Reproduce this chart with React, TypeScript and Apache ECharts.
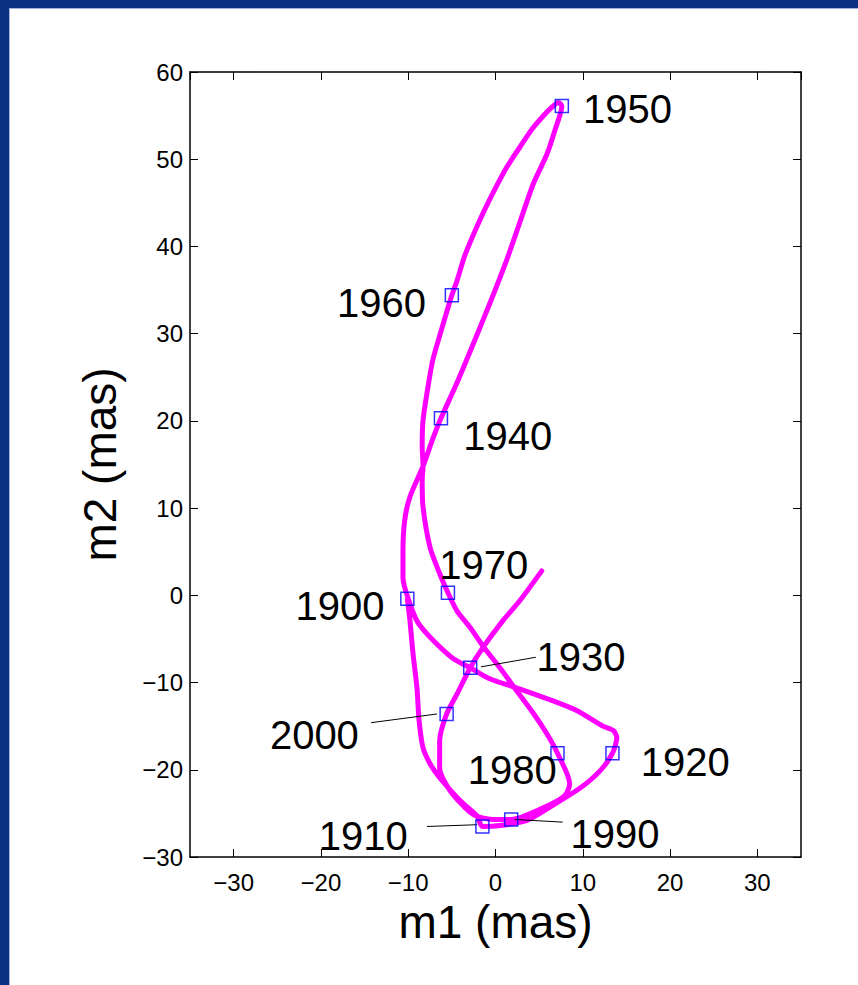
import React, { useEffect, useRef } from "react";
import * as echarts from "echarts";

// ---- data ----
const decades = [1900, 1910, 1920, 1930, 1940, 1950, 1960, 1970, 1980, 1990, 2000];
const markerM1 = [-10.1, -1.5, 13.4, -2.9, -6.25, 7.6, -5.0, -5.45, 7.1, 1.8, -5.6];
const markerM2 = [-0.4, -26.5, -18.1, -8.3, 20.3, 56.1, 34.4, 0.3, -18.1, -25.7, -13.6];

// pole path (m1, m2) in mas, 1900 -> end
const path1900s: number[][] = [
  [-10.1, -0.4], [-9.8, -2.9], [-9.45, -6.7], [-9.0, -10.6], [-8.75, -14.4], [-8.3, -17.5],
  [-7.5, -19.3], [-6.4, -20.9], [-4.1, -23.5], [-2.1, -25.3], [-1.5, -26.5],
];
const path1910s: number[][] = [[0.5, -26.4], [3.6, -25.8], [6.2, -24.3], [9.7, -22.1], [12.0, -20.1], [13.4, -18.1]];
const path1920s: number[][] = [[13.9, -16.3], [13.5, -15.5], [12.3, -15.0], [9.3, -13.2], [6.6, -12.1], [2.4, -10.6], [-0.6, -9.6], [-2.9, -8.3]];
const path1930s: number[][] = [
  [-4.9, -7.2], [-7.3, -5.0], [-8.9, -3.1], [-9.8, -0.95], [-10.6, 2.0], [-10.6, 5.1],
  [-10.4, 8.6], [-9.8, 11.3], [-8.3, 14.8], [-7.2, 17.9], [-6.25, 20.3],
];
const path1940s: number[][] = [[-4.4, 24.4], [-2.6, 28.7], [-0.6, 33.6], [1.3, 38.5], [2.8, 42.8], [4.3, 47.1], [5.9, 50.6], [6.8, 53.3], [7.6, 56.1]];
const path1950s: number[][] = [[7.2, 56.5], [6.5, 56.0], [5.6, 55.1], [4.3, 53.6], [2.8, 51.4], [1.3, 49.1], [-0.3, 46.1], [-1.8, 43.0], [-3.5, 39.0], [-4.4, 36.1], [-5.0, 34.4]];
const path1960s: number[][] = [
  [-6.0, 31.1], [-7.2, 26.9], [-7.8, 23.5], [-8.3, 20.1], [-8.4, 17.0], [-8.3, 14.8],
  [-8.4, 13.2], [-8.3, 10.1], [-7.5, 5.5], [-6.4, 2.5], [-5.45, 0.3],
];
const path1970s: number[][] = [[-4.4, -1.8], [-2.9, -3.7], [-1.45, -5.8], [0.5, -8.3], [2.4, -10.9], [4.4, -13.6], [5.9, -15.9], [7.1, -18.1]];
const path1980s: number[][] = [[8.5, -21.6], [7.9, -23.0], [5.4, -24.4], [1.8, -25.7]];
const path1990s: number[][] = [[-0.3, -25.7], [-2.6, -25.1], [-5.2, -22.4], [-6.4, -19.8], [-6.4, -16.7], [-5.6, -13.6]];
const path2000s: number[][] = [[-4.4, -11.3], [-2.9, -8.3], [-1.45, -6.0], [0.85, -2.9], [2.8, -0.6], [5.3, 2.8]];

// leader lines (annotation), data coordinates
const leaderLines: number[][][] = [
  [[-1.67, -8.2], [4.62, -7.1]],
  [[-14.25, -14.6], [-6.7, -13.6]],
  [[-7.85, -26.5], [-2.1, -26.3]],
  [[2.2, -25.7], [7.7, -26.0]],
];

// ---- styling ----
const labelPlacement: Record<number, { align: string; dx: number; dy: number }> = {
  1900: { align: "right", dx: -22, dy: 8 },
  1910: { align: "right", dx: -74, dy: 10 },
  1920: { align: "left", dx: 29, dy: 10 },
  1930: { align: "left", dx: 67, dy: -10 },
  1940: { align: "left", dx: 23, dy: 18 },
  1950: { align: "left", dx: 22, dy: 4 },
  1960: { align: "right", dx: -25, dy: 8 },
  1970: { align: "left", dx: -8, dy: -27 },
  1980: { align: "right", dx: 0, dy: 18 },
  1990: { align: "left", dx: 60, dy: 15 },
  2000: { align: "right", dx: -87, dy: 22 },
};

const FONT = "'Liberation Sans', Arial, Helvetica, sans-serif";
const SYMBOL = 13;
const minusFmt = (v: number) => String(v).replace("-", "\u2212");

export default function App() {
  const ref = useRef<HTMLDivElement>(null);
  useEffect(() => {
    if (!ref.current) return;
    const chart = echarts.init(ref.current, null, { renderer: "svg" });
    const pathPoints = [
      ...path1900s, ...path1910s, ...path1920s, ...path1930s, ...path1940s, ...path1950s,
      ...path1960s, ...path1970s, ...path1980s, ...path1990s, ...path2000s,
    ];
    const axisLine = { show: true, onZero: false, lineStyle: { color: "#000", width: 1.5 } };
    const axisTick = { show: true, inside: true, length: 8, lineStyle: { color: "#000", width: 1 } };
    const xBase = { type: "value", min: -35, max: 35, splitNumber: 7, splitLine: { show: false }, axisLine, axisTick };
    const yBase = { type: "value", min: -30, max: 60, interval: 10, splitLine: { show: false }, axisLine, axisTick };
    const option: any = {
      animation: false,
      backgroundColor: "#ffffff",
      textStyle: { fontFamily: FONT },
      grid: { left: 190, right: 57, top: 72, bottom: 128, containLabel: false },
      xAxis: [
        {
          ...xBase,
          position: "bottom",
          name: "m1 (mas)",
          nameLocation: "middle",
          nameGap: 40,
          nameTextStyle: { fontSize: 46, color: "#000", fontFamily: FONT },
          axisLabel: { show: true, fontSize: 24, color: "#000", margin: 13, showMinLabel: false, showMaxLabel: false, formatter: minusFmt, fontFamily: FONT },
        },
        { ...xBase, position: "top", axisLabel: { show: false } },
      ],
      yAxis: [
        {
          ...yBase,
          position: "left",
          name: "m2 (mas)",
          nameLocation: "middle",
          nameGap: 67,
          nameTextStyle: { fontSize: 46, color: "#000", fontFamily: FONT },
          axisLabel: { show: true, fontSize: 24, color: "#000", margin: 7, formatter: minusFmt, fontFamily: FONT },
        },
        { ...yBase, position: "right", axisLabel: { show: false } },
      ],
      graphic: [
        { type: "rect", left: 0, top: 0, shape: { width: 858, height: 8 }, style: { fill: "#0b3282" }, z: 100 },
        { type: "rect", left: 0, top: 0, shape: { width: 9, height: 985 }, style: { fill: "#0b3282" }, z: 100 },
        { type: "rect", left: 9, top: 8, shape: { width: 849, height: 1 }, style: { fill: "#9fb2dc" }, z: 100 },
        { type: "rect", left: 9, top: 8, shape: { width: 1, height: 977 }, style: { fill: "#9fb2dc" }, z: 100 },
      ],
      series: [
        {
          type: "line",
          data: pathPoints,
          symbol: "none",
          showSymbol: false,
          smooth: 0.25,
          lineStyle: { color: "#ff00ff", width: 5, cap: "round", join: "round" },
          z: 2,
          silent: true,
        },
        ...leaderLines.map((seg) => ({
          type: "line",
          data: seg,
          symbol: "none",
          lineStyle: { color: "#000", width: 1 },
          z: 3,
          silent: true,
        })),
        {
          type: "scatter",
          symbol: "rect",
          symbolSize: SYMBOL,
          itemStyle: { color: "rgba(0,0,0,0)", borderColor: "#0000ff", borderWidth: 1.5 },
          z: 4,
          silent: true,
          data: decades.map((d, i) => {
            const p = labelPlacement[d];
            return {
              name: String(d),
              value: [markerM1[i], markerM2[i]],
              label: {
                show: true,
                position: [SYMBOL / 2 + p.dx, SYMBOL / 2 + p.dy],
                align: p.align,
                verticalAlign: "middle",
                formatter: "{b}",
                fontSize: 40,
                fontWeight: "normal",
                color: "#000000",
                opacity: 1,
                textBorderWidth: 0,
                fontFamily: FONT,
              },
            };
          }),
        },
      ],
    };
    chart.setOption(option);
    return () => chart.dispose();
  }, []);
  return (
    <div
      ref={ref}
      style={{ position: "fixed", left: 0, top: 0, width: 858, height: 985, background: "#fff" }}
    />
  );
}
